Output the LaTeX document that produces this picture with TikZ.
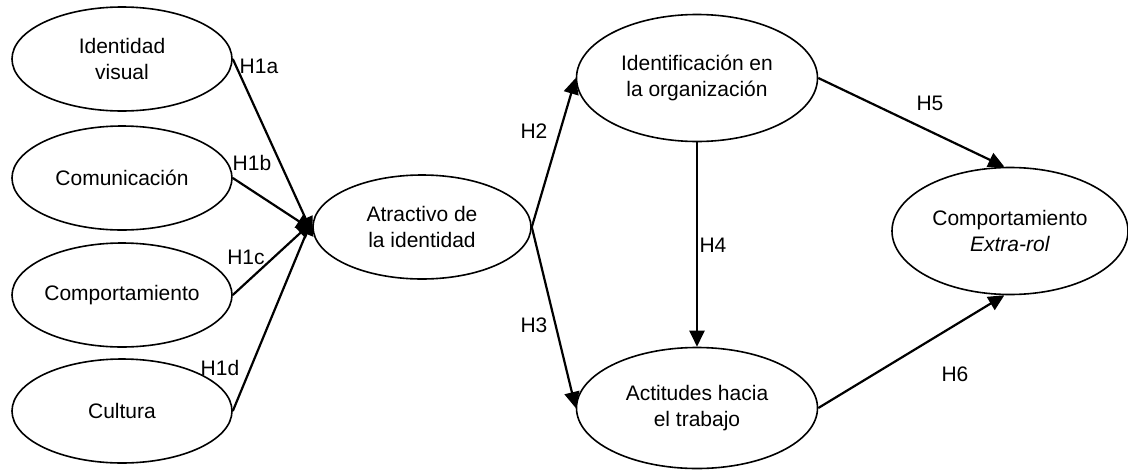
\documentclass[tikz,border=0pt]{standalone}
\usepackage{fontspec}
\setmainfont{Liberation Sans}
\usetikzlibrary{shapes.geometric,arrows.meta}
\begin{document}
\begin{tikzpicture}[x=1pt,y=-1pt,
  ell/.style={draw, line width=1.6pt, ellipse, inner sep=0pt, align=center, font=\fontsize{21}{26}\selectfont},
  arr/.style={line width=2.2pt, -{Triangle[length=16pt,width=15pt]}},
  lab/.style={font=\fontsize{21}{26}\selectfont, inner sep=0pt}]
\useasboundingbox (0,0) rectangle (1128,469);
\node[ell, minimum width=220pt, minimum height=104pt] (iv) at (122,59) {Identidad\\visual};
\node[ell, minimum width=220pt, minimum height=104pt] (com) at (122,178) {Comunicación};
\node[ell, minimum width=220pt, minimum height=104pt] (cmp) at (122,295) {Comportamiento};
\node[ell, minimum width=220pt, minimum height=104pt] (cul) at (122,411) {Cultura};
\node[ell, minimum width=218pt, minimum height=104pt] (atr) at (422,227) {Atractivo de\\la identidad};
\node[ell, minimum width=241pt, minimum height=127pt] (idn) at (697,78) {Identificación en\\la organización};
\node[ell, minimum width=241pt, minimum height=121pt] (act) at (697,408) {Actitudes hacia\\el trabajo};
\node[ell, minimum width=236pt, minimum height=127pt] (ext) at (1010,231) {Comportamiento\\\textit{Extra-rol}};

\draw[arr] (iv.east) -- ([yshift=-6pt]atr.west);
\draw[arr] (com.east) -- ([yshift=-3pt]atr.west);
\draw[arr] (cmp.east) -- ([yshift=5pt]atr.west);
\draw[arr] (cul.east) -- ([yshift=8pt]atr.west);
\draw[arr] (atr.east) -- (idn.west);
\draw[arr] (atr.east) -- (act.west);
\draw[arr] (idn.south) -- (act.north);
\draw[arr] (idn.east) -- (ext.95);
\draw[arr] (act.east) -- (ext.265);

\node[lab] (h1a) at (259,66) {H1a};
\node[lab] (h1b) at (252,163) {H1b};
\node[lab] (h1c) at (246,257) {H1c};
\node[lab] (h1d) at (220,368) {H1d};
\node[lab] (h2) at (534,131) {H2};
\node[lab] (h3) at (534,325) {H3};
\node[lab] (h4) at (713,245) {H4};
\node[lab] (h5) at (930,103) {H5};
\node[lab] (h6) at (955,374) {H6};
\end{tikzpicture}
\end{document}
